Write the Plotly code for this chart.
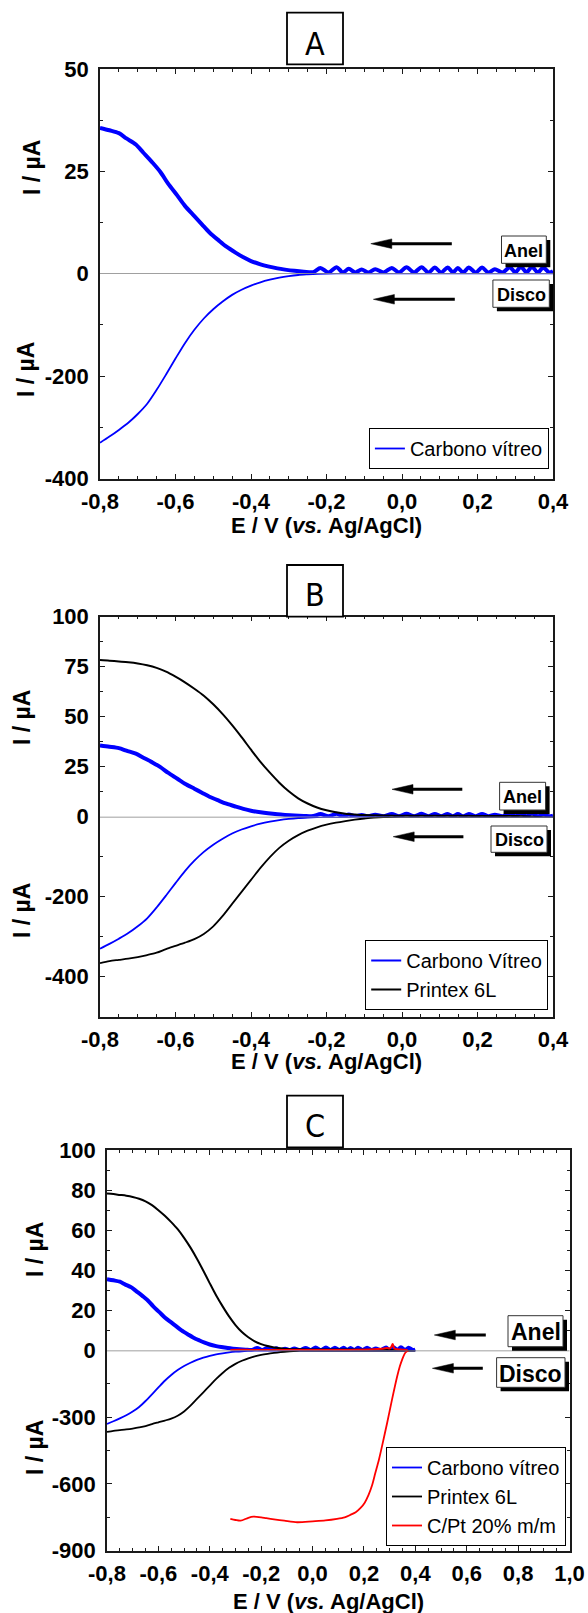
import plotly.graph_objects as go

# ---------------- data ----------------
# Carbono vítreo (glassy carbon) - ring current (µA)
E_gc_ring = [-0.80, -0.775, -0.75, -0.73, -0.705, -0.685, -0.66, -0.64, -0.62, -0.595, -0.575, -0.55,
             -0.53, -0.51, -0.485, -0.465, -0.44, -0.42, -0.40, -0.375, -0.355, -0.33, -0.31, -0.285,
             -0.26, -0.235, -0.216, -0.195, -0.173, -0.157, -0.141, -0.124, -0.107, -0.089, -0.071,
             -0.049, -0.027, -0.008, 0.012, 0.032, 0.052, 0.070, 0.087, 0.104, 0.121, 0.135, 0.148,
             0.162, 0.177, 0.195, 0.212, 0.229, 0.246, 0.266, 0.286, 0.300, 0.315, 0.330, 0.344,
             0.360, 0.374, 0.390, 0.400]
I_gc_ring = [35.6, 35.0, 34.3, 33.0, 31.5, 29.5, 27.0, 24.8, 22.0, 19.0, 16.5, 14.0,
             12.0, 10.0, 8.0, 6.5, 5.0, 3.9, 3.0, 2.2, 1.7, 1.2, 0.9, 0.6,
             0.4, 0.3, 1.3, 0.2, 1.5, 0.2, 1.1, 0.2, 0.9, 0.2, 1.0,
             0.2, 1.3, 0.2, 1.5, 0.2, 1.5, 0.2, 1.4, 0.2, 1.4, 0.2, 1.3,
             0.2, 1.4, 0.2, 1.4, 0.2, 1.0, 0.2, 1.5, 0.2, 1.6, 0.2, 1.6,
             0.2, 1.4, 0.2, 0.5]
# Carbono vítreo - disc current (µA)
E_gc_disc = [-0.80, -0.775, -0.75, -0.725, -0.70, -0.675, -0.65, -0.625, -0.60, -0.575, -0.55, -0.525,
             -0.50, -0.475, -0.45, -0.425, -0.40, -0.375, -0.35, -0.325, -0.30, -0.275, -0.25, -0.225,
             -0.20, -0.15, -0.10, 0.0, 0.10, 0.20, 0.30, 0.40]
I_gc_disc = [-330, -318, -305, -291, -274, -254, -227, -197, -166, -136, -110, -88,
             -70, -55, -42, -32, -24, -17.5, -12.5, -8.5, -5.5, -3.3, -2.0, -1.0,
             -0.5, -0.2, 0, 0, 0, 0, 0, 0]
# Printex 6L - ring
E_px_ring = [-0.80, -0.775, -0.75, -0.725, -0.70, -0.675, -0.65, -0.625, -0.60, -0.575, -0.55, -0.525,
             -0.50, -0.475, -0.45, -0.425, -0.40, -0.375, -0.35, -0.325, -0.30, -0.275, -0.25, -0.225,
             -0.20, -0.175, -0.15, -0.125, -0.10, -0.05, 0.0, 0.10, 0.20, 0.30, 0.35, 0.40]
I_px_ring = [78.3, 78.0, 77.6, 77.2, 76.6, 75.7, 74.4, 72.5, 70.0, 67.2, 64.0, 60.5,
             56.2, 51.3, 45.8, 39.8, 33.5, 27.4, 22.0, 17.0, 12.7, 9.2, 6.6, 4.6,
             3.2, 2.2, 1.5, 1.1, 0.8, 0.6, 0.5, 0.5, 0.4, 0.3, 0.0, -0.5]
# Printex 6L - disc
E_px_disc = [-0.80, -0.775, -0.75, -0.725, -0.70, -0.675, -0.65, -0.625, -0.60, -0.575, -0.55, -0.525,
             -0.50, -0.475, -0.45, -0.425, -0.40, -0.375, -0.35, -0.325, -0.30, -0.275, -0.25, -0.225,
             -0.20, -0.175, -0.15, -0.125, -0.10, -0.075, -0.05, -0.025, 0.0, 0.10, 0.20, 0.30, 0.40]
I_px_disc = [-366, -361, -358, -355, -351, -346, -340, -331, -323, -315, -306, -293,
             -274, -248, -218, -188, -158, -128, -101, -78, -60, -46, -35, -26.5,
             -20, -15, -11, -7.5, -4.5, -2.5, -1.0, -0.3, 0, 0, 0, 0, 0]
# C/Pt 20% m/m - ring
E_pt_ring = [-0.32, -0.28, -0.24, -0.20, -0.15, -0.10, -0.05, 0.0, 0.05, 0.10, 0.15, 0.20,
             0.24, 0.27, 0.29, 0.30, 0.305, 0.312, 0.318, 0.33, 0.35, 0.37]
I_pt_ring = [0.3, 0.4, 0.3, 0.3, 0.2, 0.2, 0.2, 0.2, 0.3, 0.3, 0.3, 0.4,
             0.6, 0.9, 1.2, 1.0, 1.4, 3.2, 1.0, 0.6, 0.4, 0.2]
# C/Pt 20% m/m - disc
E_pt_disc = [-0.32, -0.30, -0.28, -0.25, -0.23, -0.20, -0.18, -0.15, -0.11, -0.06,
             0.0, 0.05, 0.095, 0.125, 0.147, 0.168, 0.186, 0.203, 0.218, 0.232,
             0.244, 0.258, 0.27, 0.29, 0.309, 0.329, 0.34, 0.348, 0.361, 0.374]
I_pt_disc = [-757, -762, -765, -752, -747, -750, -754, -759, -765, -772,
             -768, -764, -757, -750, -739, -727, -709, -684, -649, -605,
             -552, -492, -432, -327, -222, -118, -70, -43, -10, 0]

legend_A = ["Carbono vítreo"]
legend_B = ["Carbono Vítreo", "Printex 6L"]
legend_C = ["Carbono vítreo", "Printex 6L", "C/Pt 20% m/m"]

# ---------------- layout helpers ----------------
W, H = 588, 1613
FONT = "Arial, Liberation Sans, Helvetica, sans-serif"
NARROW = "Liberation Sans Narrow, Arial Narrow, DejaVu Sans Condensed, Arial, sans-serif"
BLUE, BLACK, RED = "#0000FF", "#000000", "#FF0000"


def px(x):
    return x / W


def py(y):
    return 1 - y / H


def fmt(v):
    v = round(v, 1) + 0.0
    return f"{v:.1f}".replace(".", ",")


def frange(a, b, step):
    n = int(round((b - a) / step))
    return [round(a + i * step, 3) for i in range(n + 1)]


panels = [
    dict(letter="A", xb="x", xt="x2", yu="y", yl="y2", leg="legend",
         x0=100, x1=553, top=69, zero=273.3, bot=478.7,
         xr=[-0.8, 0.4], ur=[0, 50], lr=[-400, 0],
         ut=[0, 25, 50], um=[12.5, 37.5], lt=[-400, -200], lm=[-300, -100],
         box=(287, 12.7, 343, 64.3), letter_y=44,
         anel=(501.5, 236, 546.3, 263.3), disco=(492.9, 280, 549.3, 307.3), tagsize=17,
         arr_anel=(370.8, 451.8, 243.7), arr_disco=(373.4, 454.8, 299.3),
         legpos=(548.9, 469), ytu=(32, 168), ytl=(26, 370), xt_y=526, xt_x=326.5,
         series=[("gc", legend_A[0])]),
    dict(letter="B", xb="x3", xt="x4", yu="y3", yl="y4", leg="legend2",
         x0=100, x1=553, top=616.7, zero=816.7, bot=1016.7,
         xr=[-0.8, 0.4], ur=[0, 100], lr=[-500, 0],
         ut=[0, 25, 50, 75, 100], um=[12.5, 37.5, 62.5, 87.5], lt=[-400, -200], lm=[-300, -100],
         box=(287, 565, 343, 616.7), letter_y=595,
         anel=(499.6, 782.3, 545.6, 810), disco=(491, 826, 547, 852.3), tagsize=17,
         arr_anel=(392, 462.3, 789.3), arr_disco=(393.2, 463.4, 836.7),
         legpos=(548.2, 1010), ytu=(22, 718), ytl=(22, 911), xt_y=1061, xt_x=326.5,
         series=[("gc", legend_B[0]), ("px", legend_B[1])]),
    dict(letter="C", xb="x5", xt="x6", yu="y5", yl="y6", leg="legend3",
         x0=107, x1=569.5, top=1150, zero=1350.5, bot=1550.7,
         xr=[-0.8, 1.0], ur=[0, 100], lr=[-900, 0],
         ut=[0, 20, 40, 60, 80, 100], um=[10, 30, 50, 70, 90], lt=[-900, -600, -300],
         lm=[-750, -450, -150],
         box=(287, 1095.7, 343, 1147.3), letter_y=1126,
         anel=(508, 1315.7, 563, 1346.7), disco=(496.6, 1357.7, 565, 1387.3), tagsize=22,
         arr_anel=(434.3, 485.8, 1335), arr_disco=(432.4, 482.8, 1368.3),
         legpos=(566, 1546), ytu=(35, 1250), ytl=(35, 1448), xt_y=1601, xt_x=328,
         series=[("gc", legend_C[0]), ("px", legend_C[1]), ("pt", legend_C[2])]),
]

data = {
    "gc": (E_gc_ring, I_gc_ring, E_gc_disc, I_gc_disc, BLUE, 4.0),
    "px": (E_px_ring, I_px_ring, E_px_disc, I_px_disc, BLACK, 2.0),
    "pt": (E_pt_ring, I_pt_ring, E_pt_disc, I_pt_disc, RED, 2.0),
}

fig = go.Figure()
layout = dict(
    width=W, height=H, margin=dict(l=0, r=0, t=0, b=0, autoexpand=False),
    paper_bgcolor="white", plot_bgcolor="white", showlegend=True,
)
shapes, annotations = [], []

tickfont = dict(family=FONT, size=22, color="black", weight="bold")
AXC = "#1a1a1a"


def axname(a):
    return "xaxis" if a == "x" else "xaxis" + a[1:]


def ayname(a):
    return "yaxis" if a == "y" else "yaxis" + a[1:]


for p in panels:
    xdom = [px(p["x0"]), px(p["x1"])]
    ydom_u = [py(p["zero"]), py(p["top"])]
    ydom_l = [py(p["bot"]), py(p["zero"])]
    xmaj = frange(p["xr"][0], p["xr"][1], 0.2)
    xmin = [v for v in frange(p["xr"][0], p["xr"][1], 0.05)
            if min(abs(v - m) for m in xmaj) > 1e-6]

    common = dict(showline=True, linecolor=AXC, linewidth=1.5, showgrid=False, zeroline=False,
                  ticks="inside", ticklen=5, tickwidth=1.2, tickcolor=AXC, automargin=False)

    # bottom x axis (labels)
    layout[axname(p["xb"])] = dict(
        domain=xdom, range=p["xr"], anchor=p["yl"], side="bottom",
        tickmode="array", tickvals=xmaj, ticktext=[fmt(v) for v in xmaj],
        tickfont=tickfont, ticklabelstandoff=2,
        minor=dict(ticks="inside", ticklen=3, tickwidth=1, tickcolor=AXC,
                   tickmode="array", tickvals=xmin),
        **common)
    # top x axis (frame only)
    layout[axname(p["xt"])] = dict(
        domain=xdom, range=p["xr"], anchor=p["yu"], side="top",
        tickmode="array", tickvals=xmaj, showticklabels=False,
        minor=dict(ticks="inside", ticklen=3, tickwidth=1, tickcolor=AXC,
                   tickmode="array", tickvals=xmin),
        **common)
    # upper y axis (ring)
    layout[ayname(p["yu"])] = dict(
        domain=ydom_u, range=p["ur"], anchor=p["xt"], mirror="allticks",
        tickmode="array", tickvals=p["ut"], ticktext=[str(v) for v in p["ut"]],
        tickfont=tickfont, ticklabelstandoff=5,
        minor=dict(ticks="inside", ticklen=3, tickwidth=1, tickcolor=AXC,
                   tickmode="array", tickvals=p["um"]),
        **common)
    # lower y axis (disc)
    layout[ayname(p["yl"])] = dict(
        domain=ydom_l, range=p["lr"], anchor=p["xb"], mirror="allticks",
        tickmode="array", tickvals=p["lt"], ticktext=[str(v) for v in p["lt"]],
        tickfont=tickfont, ticklabelstandoff=5,
        minor=dict(ticks="inside", ticklen=3, tickwidth=1, tickcolor=AXC,
                   tickmode="array", tickvals=p["lm"]),
        **common)

    # traces
    for key, name in p["series"]:
        Er, Ir, Ed, Id, col, rw = data[key]
        fig.add_trace(go.Scatter(x=Er, y=Ir, xaxis=p["xt"], yaxis=p["yu"], mode="lines",
                                 line=dict(color=col, width=rw, shape="spline", smoothing=0.8),
                                 showlegend=False, hoverinfo="skip"))
        fig.add_trace(go.Scatter(x=Ed, y=Id, xaxis=p["xb"], yaxis=p["yl"], mode="lines",
                                 line=dict(color=col, width=1.8, shape="spline", smoothing=0.8),
                                 name=name, legend=p["leg"], showlegend=True, hoverinfo="skip"))

    # zero line
    shapes.append(dict(type="line", xref=p["xb"] + " domain", yref=p["yl"], x0=0, x1=1, y0=0, y1=0,
                       line=dict(color="#808080", width=1.5), layer="above"))

    # panel letter box
    bx0, by0, bx1, by1 = p["box"]
    shapes.append(dict(type="rect", xref="paper", yref="paper", x0=px(bx0), x1=px(bx1),
                       y0=py(by1), y1=py(by0), line=dict(color="black", width=1.8),
                       fillcolor="white", layer="above"))
    annotations.append(dict(text=p["letter"], xref="paper", yref="paper",
                            x=px((bx0 + bx1) / 2), y=py(p["letter_y"]), xanchor="center",
                            yanchor="middle", showarrow=False,
                            font=dict(family=NARROW, size=32, color="black")))

    # Anel / Disco tags with shadow
    for (tx0, ty0, tx1, ty1), label in ((p["anel"], "Anel"), (p["disco"], "Disco")):
        shapes.append(dict(type="rect", xref="paper", yref="paper",
                           x0=px(tx0 + 4), x1=px(tx1 + 4), y0=py(ty1 + 4), y1=py(ty0 + 4),
                           line=dict(width=0), fillcolor="black", layer="above"))
        shapes.append(dict(type="rect", xref="paper", yref="paper",
                           x0=px(tx0), x1=px(tx1), y0=py(ty1), y1=py(ty0),
                           line=dict(color="#333", width=1), fillcolor="white", layer="above"))
        annotations.append(dict(text=label, xref="paper", yref="paper",
                                x=px((tx0 + tx1) / 2), y=py((ty0 + ty1) / 2 + 1),
                                xanchor="center", yanchor="middle", showarrow=False,
                                font=dict(family=FONT, size=p["tagsize"] + 1, color="black",
                                          weight="bold")))

    # scan-direction arrows
    for tip, tail, yy in (p["arr_anel"], p["arr_disco"]):
        shapes.append(dict(type="line", xref="paper", yref="paper",
                           x0=px(tip + 16), x1=px(tail), y0=py(yy), y1=py(yy),
                           line=dict(color="black", width=3), layer="above"))
        path = (f"M {px(tip)},{py(yy)} L {px(tip + 21)},{py(yy - 4.8)} "
                f"L {px(tip + 21)},{py(yy + 4.8)} Z")
        shapes.append(dict(type="path", xref="paper", yref="paper", path=path,
                           fillcolor="black", line=dict(color="black", width=0.5), layer="above"))

    # legend
    layout[p["leg"]] = dict(
        x=px(p["legpos"][0]), y=py(p["legpos"][1]), xanchor="right", yanchor="bottom",
        xref="paper", yref="paper",
        bgcolor="white", bordercolor="black", borderwidth=1,
        font=dict(family=FONT, size=20, color="black"),
        tracegroupgap=0, itemwidth=30,
    )

    # axis titles
    for (tx, ty) in (p["ytu"], p["ytl"]):
        annotations.append(dict(text="I / µA", xref="paper", yref="paper", x=px(tx), y=py(ty),
                                xanchor="center", yanchor="middle", textangle=-90, showarrow=False,
                                font=dict(family=FONT, size=23, color="black", weight="bold")))
    annotations.append(dict(text="E / V (<i>vs.</i> Ag/AgCl)", xref="paper", yref="paper",
                            x=px(p["xt_x"]), y=py(p["xt_y"]), xanchor="center", yanchor="middle",
                            showarrow=False,
                            font=dict(family=FONT, size=22, color="black", weight="bold")))

layout["shapes"] = shapes
layout["annotations"] = annotations
fig.update_layout(**layout)
fig.write_html("out.html")
